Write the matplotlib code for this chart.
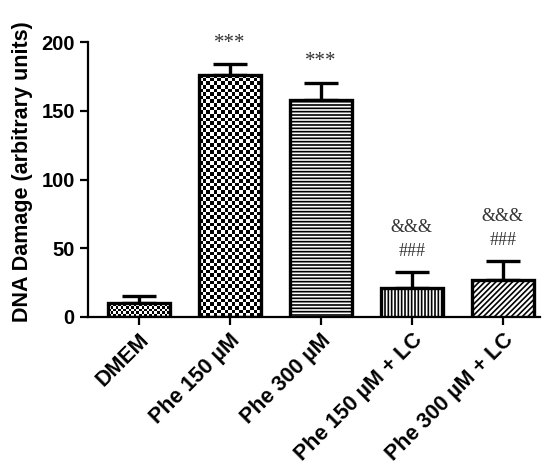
import numpy as np
import matplotlib
matplotlib.use("Agg")
import matplotlib.pyplot as plt

plt.rcParams['font.family'] = ['Liberation Sans', 'DejaVu Sans']
plt.rcParams['hatch.linewidth'] = 1.2

# data
groups = ['DMEM', 'Phe 150 µM', 'Phe 300 µM', 'Phe 150 µM + LC', 'Phe 300 µM + LC']
means = [10, 176, 158, 21, 27]
errors = [5, 8, 12.5, 12, 14]
marks_low = ['', '***', '***', '###', '###']
marks_high = ['', '', '', '&&&', '&&&']
hatches = [None, None, '-----', '|||||', '//////']
checker_px = [2.6, 3.6, 0, 0, 0]   # size of checker squares in pixels (0 = none)

fig = plt.figure(figsize=(5.48, 4.68), dpi=100)
ax = fig.add_axes([88 / 548, 1 - 317 / 468, 452 / 548, 275 / 468])

x = np.arange(len(groups))
width = 0.68
faces = ['none' if cp else 'white' for cp in checker_px]
bars = ax.bar(x, means, width=width, color=faces, edgecolor='black',
              linewidth=2.4, zorder=3)
ax.errorbar(x, means, yerr=[np.zeros(len(x)), errors], fmt='none',
            ecolor='black', elinewidth=2.4, capsize=12.5, capthick=2.4, zorder=2)

px_x = 1 / 91.0          # data units per pixel
px_y = 200 / 275.0
for b, h, cp in zip(bars, hatches, checker_px):
    if h:
        b.set_hatch(h)
    if cp:
        x0, w = b.get_x(), b.get_width()
        hgt = b.get_height()
        nx = int(round(w / px_x / cp))
        ny = int(round(hgt / px_y / cp))
        ii, jj = np.indices((ny, nx))
        tex = (ii + jj) % 2
        im = ax.imshow(tex, cmap='gray', extent=[x0, x0 + w, 0, hgt],
                       interpolation='nearest', aspect='auto', zorder=2.5,
                       vmin=0, vmax=1)
        im.set_clip_path(b)
ax.set_xlim(-0.56, 4.41)
ax.set_ylim(0, 200)

for xi, m, e, lo, hi in zip(x, means, errors, marks_low, marks_high):
    if lo:
        fs = 15 if lo == '***' else 13
        ax.text(xi, m + e + 15, lo, ha='center', va='center', fontsize=fs,
                family='Liberation Serif', color='#333333')
    if hi:
        ax.text(xi, m + e + 32, hi, ha='center', va='center', fontsize=13,
                family='Liberation Serif', color='#333333')

ax.spines['top'].set_visible(False)
ax.spines['right'].set_visible(False)
ax.spines['left'].set_linewidth(1.6)
ax.spines['bottom'].set_linewidth(1.6)
ax.tick_params(width=1.6, length=6)
ax.set_yticks([0, 50, 100, 150, 200])
ax.set_yticklabels(['0', '50', '100', '150', '200'], fontsize=14.5, fontweight='bold')
ax.set_xticks(x)
ax.set_xticklabels(groups, rotation=45, ha='right', rotation_mode='anchor',
                   fontsize=15.5, fontweight='bold')
ax.tick_params(axis='x', pad=3)
ax.set_ylabel('DNA Damage (arbitrary units)', fontsize=15.5, fontweight='bold')
ax.yaxis.set_label_coords(-0.122, 0.53)

fig.savefig('out.png', dpi=100)
